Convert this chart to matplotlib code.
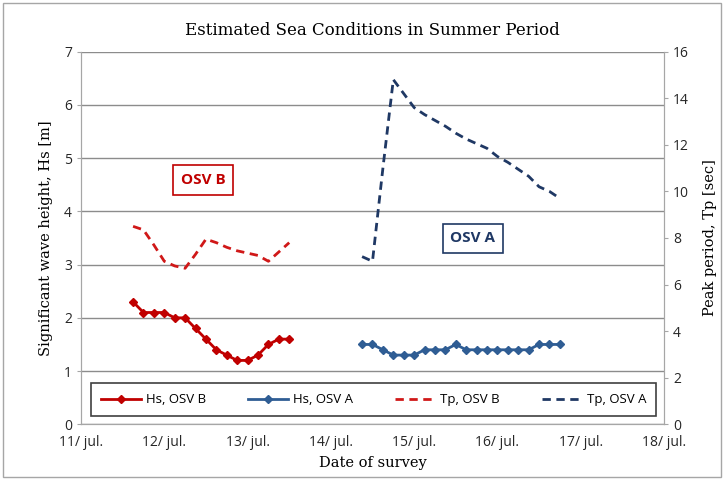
import matplotlib
matplotlib.use("Agg")
import matplotlib.pyplot as plt
import pandas as pd

# survey times (3-hourly records)
times_b = pd.date_range("2013-07-11 15:00", periods=16, freq="3h")
times_a = pd.date_range("2013-07-14 09:00", periods=20, freq="3h")

hs_b = [2.3, 2.1, 2.1, 2.1, 2.0, 2.0, 1.8, 1.6, 1.4, 1.3, 1.2, 1.2, 1.3, 1.5, 1.6, 1.6]
hs_a = [1.5, 1.5, 1.4, 1.3, 1.3, 1.3, 1.4, 1.4, 1.4, 1.5,
        1.4, 1.4, 1.4, 1.4, 1.4, 1.4, 1.4, 1.5, 1.5, 1.5]
tp_b = [8.5, 8.35, 7.7, 7.0, 6.8, 6.7, 7.3, 7.95, 7.8, 7.6, 7.45, 7.35, 7.25, 7.0, 7.4, 7.8]
tp_a = [7.2, 7.0, 11.0, 14.8, 14.2, 13.6, 13.3, 13.05, 12.8, 12.5,
        12.25, 12.05, 11.85, 11.5, 11.25, 10.95, 10.65, 10.2, 10.0, 9.7]

day_ticks = pd.date_range("2013-07-11", "2013-07-18", freq="D")
day_labels = ["11/ jul.", "12/ jul.", "13/ jul.", "14/ jul.", "15/ jul.", "16/ jul.", "17/ jul.", "18/ jul."]

red = "#C00000"
red2 = "#D01818"
blue = "#2F5D94"
navy = "#1F3864"
serif = "DejaVu Serif"
sans = "Open Sans"

fig = plt.figure(figsize=(7.24, 4.79), dpi=100)
ax = fig.add_axes([0.1119, 0.1142, 0.8052, 0.7779])
ax2 = ax.twinx()

l1, = ax.plot(times_b, hs_b, color=red, lw=2, marker="D", ms=4, label="Hs, OSV B")
l2, = ax.plot(times_a, hs_a, color=blue, lw=2, marker="D", ms=4, label="Hs, OSV A")
l3, = ax2.plot(times_b, tp_b, color=red2, lw=2, ls=(0, (3, 2)), label="Tp, OSV B")
l4, = ax2.plot(times_a, tp_a, color=navy, lw=2, ls=(0, (3, 2)), label="Tp, OSV A")

ax.set_xlim(day_ticks[0], day_ticks[-1])
ax.set_ylim(0, 7)
ax2.set_ylim(0, 16)
ax.set_yticks(range(0, 8))
ax2.set_yticks(range(0, 17, 2))
ax.set_xticks(day_ticks)
ax.set_xticklabels(day_labels)

ax.grid(axis="y", color="#8c8c8c", lw=1)
ax.set_axisbelow(True)
for a in (ax, ax2):
    for s in a.spines.values():
        s.set_color("#a6a6a6")
    a.tick_params(labelsize=10, colors="#a6a6a6", labelcolor="#262626", length=3)
ax.spines["top"].set_visible(False)
ax2.spines["top"].set_visible(False)
ax.tick_params(axis="x", length=0, pad=8)
for lab in ax.get_xticklabels() + ax.get_yticklabels() + ax2.get_yticklabels():
    lab.set_family(sans)

ax.set_title("Estimated Sea Conditions in Summer Period", family=serif, fontsize=12, pad=12)
ax.set_xlabel("Date of survey", family=serif, fontsize=10.5, labelpad=4)
ax.set_ylabel("Significant wave height, Hs [m]", family=serif, fontsize=10.5, labelpad=8)
ax2.set_ylabel("Peak period, Tp [sec]", family=serif, fontsize=10.5, labelpad=10)

ax.text(0.209, 0.656, "OSV B", transform=ax.transAxes, ha="center", va="center",
        color=red, fontsize=11, fontweight="bold", family=sans,
        bbox=dict(boxstyle="square,pad=0.5", fc="white", ec=red, lw=1.2))
ax.text(0.672, 0.499, "OSV A", transform=ax.transAxes, ha="center", va="center",
        color=navy, fontsize=11, fontweight="bold", family=sans,
        bbox=dict(boxstyle="square,pad=0.5", fc="white", ec=navy, lw=1.2))

leg = ax.legend(handles=[l1, l2, l3, l4], loc="lower center", bbox_to_anchor=(0.502, 0.022),
                ncol=4, fancybox=False, framealpha=1, edgecolor="#404040",
                prop={"family": sans, "size": 9.5}, handlelength=3.0, columnspacing=3.2,
                borderpad=0.75, handletextpad=0.4, borderaxespad=0)
leg.get_frame().set_linewidth(1.2)
leg.set_zorder(5)

fig.patches.append(plt.Rectangle((0.004, 0.004), 0.992, 0.99, transform=fig.transFigure,
                                 fill=False, ec="#a6a6a6", lw=1))

fig.savefig("out.png", dpi=100)
